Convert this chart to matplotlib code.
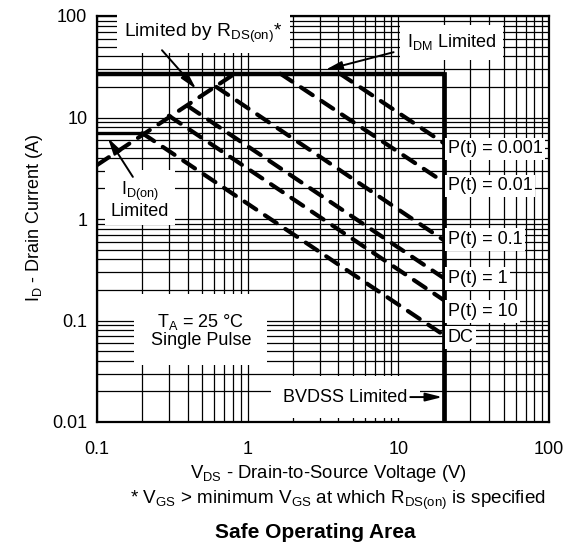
import matplotlib
matplotlib.use("Agg")
import matplotlib.pyplot as plt

plt.rcParams['font.family'] = ['Liberation Sans', 'DejaVu Sans']
plt.rcParams['mathtext.fontset'] = 'custom'
plt.rcParams['mathtext.rm'] = 'Liberation Sans'
plt.rcParams['mathtext.it'] = 'Liberation Sans'

# ---- data ----
rds_v = [0.1, 0.82]
rds_i = [3.4, 27]
idm_v = [0.1, 20]
idm_i = [27, 27]
bvdss_v = [20, 20]
bvdss_i = [27, 0.01]
idon_v = [0.1, 0.2]
idon_i = [7.0, 7.0]

curve_names = ['P(t) = 0.001', 'P(t) = 0.01', 'P(t) = 0.1', 'P(t) = 1', 'P(t) = 10', 'DC']
curve_start_v = [4.1, 1.65, 0.62, 0.4, 0.3, 0.2]
curve_start_i = [27, 27, 20, 13, 10.4, 7.0]
curve_end_v = [20, 20, 20, 20, 20, 20]
curve_end_i = [5.6, 2.31, 0.62, 0.262, 0.159, 0.072]
curve_label_i = [4.9, 2.12, 0.63, 0.26, 0.123, 0.068]

x_ticks = [0.1, 1, 10, 100]
x_ticklabels = ['0.1', '1', '10', '100']
y_ticks = [0.01, 0.1, 1, 10, 100]
y_ticklabels = ['0.01', '0.1', '1', '10', '100']

FS = 13

fig = plt.figure(figsize=(5.72, 5.48), dpi=100)
ax = fig.add_axes([97/572, 1-422/548, (549-97)/572, (422-16)/548])
ax.set_xscale('log')
ax.set_yscale('log')
ax.set_xlim(0.1, 100)
ax.set_ylim(0.01, 100)
ax.grid(True, which='both', color='black', lw=0.9)
ax.set_axisbelow(True)
for s in ax.spines.values():
    s.set_linewidth(1.6)
ax.set_xticks(x_ticks)
ax.set_xticklabels(x_ticklabels)
ax.set_yticks(y_ticks)
ax.set_yticklabels(y_ticklabels)
ax.tick_params(which='both', length=0, labelsize=FS)
ax.tick_params(axis='x', pad=14)
ax.tick_params(axis='y', pad=7)

dash = dict(color='black', lw=3.0, linestyle=(0, (3.4, 2.5)), dash_capstyle='round', zorder=3)
ax.plot(rds_v, rds_i, **dash)
for sv, si, ev, ei in zip(curve_start_v, curve_start_i, curve_end_v, curve_end_i):
    ax.plot([sv, ev], [si, ei], **dash)

ax.plot(idm_v, idm_i, color='black', lw=3.2, zorder=4, solid_capstyle='butt')
ax.plot(bvdss_v, bvdss_i, color='black', lw=3.4, zorder=4, solid_capstyle='projecting')
ax.plot(idon_v, idon_i, color='black', lw=2.4, zorder=4, solid_capstyle='butt')

for name, li in zip(curve_names, curve_label_i):
    ax.annotate(name, xy=(20, li), xytext=(3, 0), textcoords='offset points',
                ha='left', va='center', fontsize=FS, zorder=6,
                bbox=dict(boxstyle='square,pad=0.15', fc='white', ec='none'))

arrow = dict(arrowstyle='-|>,head_length=1.0,head_width=0.25', color='black', lw=1.4,
             shrinkA=0, shrinkB=0)

# Limited by RDS(on)
ax.text(0.51, 67, r'Limited by R$_\mathregular{DS(on)}$*', ha='center', va='center',
        fontsize=13.8, zorder=6, bbox=dict(boxstyle='square,pad=0.4', fc='white', ec='none'))
ax.annotate('', xy=(0.455, 19.1), xytext=(0.27, 46), arrowprops=arrow, zorder=7)

# IDM limited
ax.text(22.5, 55, r'I$_\mathregular{DM}$ Limited', ha='center', va='center',
        fontsize=FS, zorder=6, bbox=dict(boxstyle='square,pad=0.4', fc='white', ec='none'))
ax.annotate('', xy=(3.27, 29.4), xytext=(9.3, 44), arrowprops=arrow, zorder=7)

# ID(on) limited
ax.text(0.193, 1.54, 'I$_\\mathregular{D(on)}$\nLimited', ha='center', va='center',
        fontsize=FS, zorder=6, linespacing=1.0,
        bbox=dict(boxstyle='square,pad=0.3', fc='white', ec='none'))
ax.annotate('', xy=(0.118, 6.3), xytext=(0.173, 2.6), arrowprops=arrow, zorder=7)

# TA box
ax.text(0.49, 0.0805, 'T$_\\mathregular{A}$ = 25 °C\nSingle Pulse', ha='center', va='center',
        fontsize=FS, zorder=6, linespacing=1.0,
        bbox=dict(boxstyle='square,pad=0.9', fc='white', ec='none'))

# BVDSS
ax.text(4.45, 0.0176, 'BVDSS Limited', ha='center', va='center',
        fontsize=FS, zorder=6, bbox=dict(boxstyle='square,pad=0.7', fc='white', ec='none'))
ax.annotate('', xy=(19.6, 0.0176), xytext=(12.0, 0.0176), arrowprops=arrow, zorder=7)

fig.text(35/572, 1-218/548, r'I$_\mathregular{D}$ - Drain Current (A)', rotation=90,
         ha='center', va='center', fontsize=FS)
fig.text(328/572, 1-473/548, r'V$_\mathregular{DS}$ - Drain-to-Source Voltage (V)',
         ha='center', va='center', fontsize=13.3)
fig.text(338/572, 1-500/548,
         r'* V$_\mathregular{GS}$ > minimum V$_\mathregular{GS}$ at which R$_\mathregular{DS(on)}$ is specified',
         ha='center', va='center', fontsize=13.6)
fig.text(315/572, 1-533/548, 'Safe Operating Area', ha='center', va='center',
         fontsize=15, fontweight='bold')

fig.savefig('out.png', dpi=100)
